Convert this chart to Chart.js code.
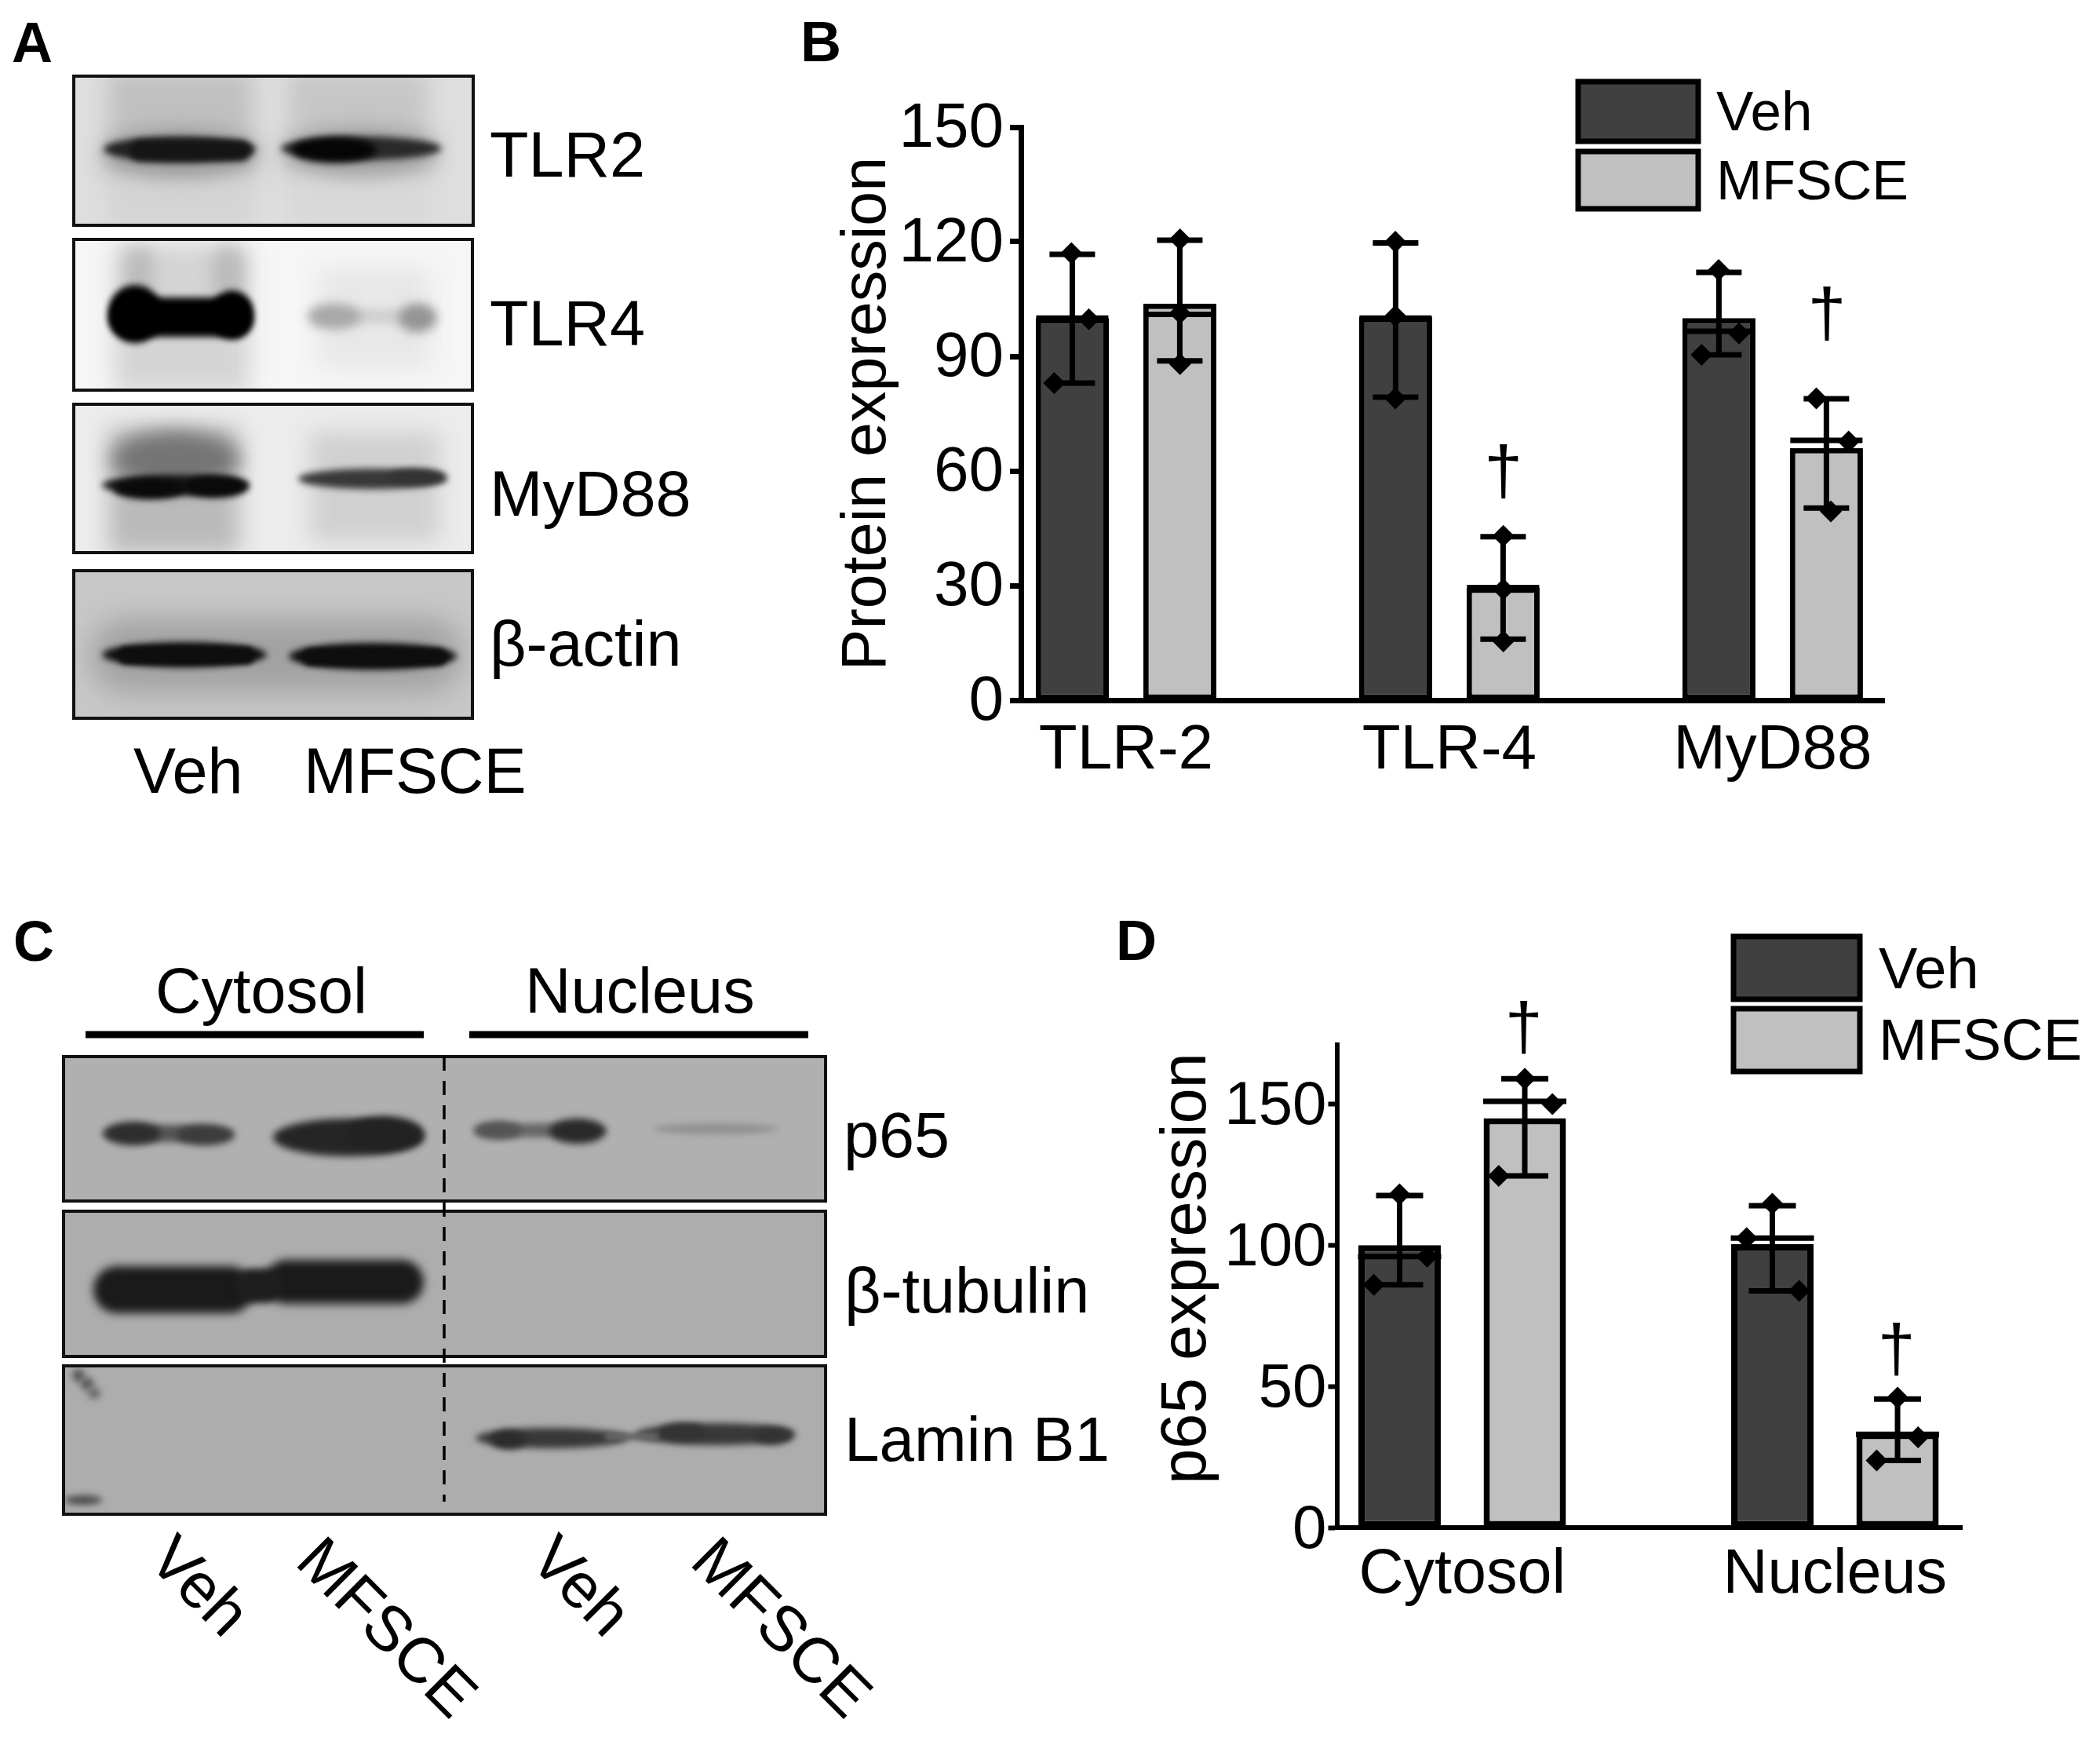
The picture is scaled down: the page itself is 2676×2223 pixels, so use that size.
<!DOCTYPE html>
<html><head><meta charset="utf-8">
<script src="https://cdn.jsdelivr.net/npm/chart.js@4/dist/chart.umd.js"></script>
<style>
html,body{margin:0;padding:0;background:#fff;width:2676px;height:2223px;overflow:hidden}
#stage{position:absolute;left:0;top:0;width:2676px;height:2223px;filter:blur(0.7px)}
#blots,#overlay{position:absolute;left:0;top:0}
.c{position:absolute}
text{font-family:"Liberation Sans",Arial,sans-serif;fill:#000}
</style></head><body>
<div id="stage">
<canvas id="blots" width="2676" height="2223"></canvas>
<svg id="overlay" width="2676" height="2223" xmlns="http://www.w3.org/2000/svg"></svg>
<div class="c" style="left:1050px;top:100px;width:1370px;height:920px"><canvas id="chartB" width="1370" height="920"></canvas></div>
<div class="c" style="left:1463px;top:1250px;width:1057px;height:810px"><canvas id="chartD" width="1057" height="810"></canvas></div>
</div>
<script>
// ---------- Panel B data ----------
const seriesNames = ['Veh', 'MFSCE'];
const catsB = ['TLR-2', 'TLR-4', 'MyD88'];
const vehB = [100, 100.3, 100];
const mfsceB = [103.8, 29.5, 66];
const vehHiB = [116.7, 119.7, 112];
const vehLoB = [83, 79.3, 90.4];
const vehMidB = [100, 100, 96.6];
const mfsceHiB = [120.4, 42.8, 78.9];
const mfsceLoB = [88.8, 16, 50.3];
const mfsceMidB = [101, 29.5, 68];
const pointsB = [
  [0.831,117],[0.885,99.7],[0.778,83],
  [1.167,120.6],[1.167,101.3],[1.167,88],
  [1.833,120],[1.833,100.6],[1.833,79],
  [2.167,43],[2.167,29],[2.167,15.4],
  [2.833,112.6],[2.896,96],[2.780,90.4],
  [3.135,79],[3.235,67.7],[3.180,49.4]
];
const daggersB = [[2.167,59],[3.168,100.3]];

// ---------- Panel D data ----------
const catsD = ['Cytosol', 'Nucleus'];
const vehD = [100, 100.4];
const mfsceD = [145, 33.5];
const vehHiD = [117.6, 114];
const vehLoD = [86, 83.8];
const vehMidD = [96, 102.5];
const mfsceHiD = [159, 45.5];
const mfsceLoD = [124.6, 23.8];
const mfsceMidD = [151, 33];
const pointsD = [
  [0.832,118],[0.906,96],[0.763,86],
  [1.168,159],[1.242,150],[1.098,124.6],
  [1.832,114.7],[1.763,102.5],[1.904,83.8],
  [2.168,46],[2.223,32],[2.112,23.8]
];
const daggersD = [[1.165,176],[2.165,62]];

const darkFill = '#404040', lightFill = '#c0c0c0', ink = '#000';
const fontFam = '"Liberation Sans", Arial, sans-serif';

// Error bars, mean lines and daggers, positioned through the chart's scales
const errorPlugin = {
  id: 'errorBars',
  beforeDraw(chart, _a, o) {
    // nudge the y tick labels down to sit as in the figure
    if (chart.$nudged) return;
    chart.$nudged = true;
    chart.scales.y.getLabelItems(chart.chartArea).forEach(it => { it.options.translation[1] += o.yLabelDy; });
  },
  afterDatasetsDraw(chart, _a, o) {
    const {ctx, scales:{x, y}} = chart;
    ctx.save();
    ctx.strokeStyle = ink; ctx.lineWidth = o.lw; ctx.lineCap = 'butt';
    chart.data.datasets.forEach((ds, di) => {
      if (!ds.errHi) return;
      chart.getDatasetMeta(di).data.forEach((bar, i) => {
        const px = bar.x, hi = y.getPixelForValue(ds.errHi[i]), lo = y.getPixelForValue(ds.errLo[i]), mid = y.getPixelForValue(ds.mid[i]);
        ctx.beginPath();
        ctx.moveTo(px, hi); ctx.lineTo(px, lo);
        ctx.moveTo(px - o.cap, hi); ctx.lineTo(px + o.cap, hi);
        ctx.moveTo(px - o.cap, lo); ctx.lineTo(px + o.cap, lo);
        ctx.moveTo(px - o.midHalf, mid); ctx.lineTo(px + o.midHalf, mid);
        ctx.stroke();
      });
    });
    ctx.fillStyle = ink; ctx.textAlign = 'center'; ctx.textBaseline = 'middle';
    ctx.font = o.daggerFont;
    o.daggers.forEach(d => ctx.fillText('\u2020', x.getPixelForValue(d[0]), y.getPixelForValue(d[1])));
    ctx.restore();
  }
};

function makeChart(id, cfg) {
  const xy = a => a.map(p => ({x:p[0], y:p[1]}));
  const groupX = cfg.cats.map((_, i) => i + 1);
  new Chart(document.getElementById(id), {
    type: 'bar',
    plugins: [errorPlugin],
    data: {
      datasets: [
        {label: seriesNames[0], order: 1, data: cfg.veh.map((v,i)=>({x:groupX[i],y:v})), backgroundColor: darkFill, borderColor: ink, borderWidth: cfg.bw, borderSkipped: false,
         errHi: cfg.vehHi, errLo: cfg.vehLo, mid: cfg.vehMid, categoryPercentage: cfg.catPct, barPercentage: cfg.barPct},
        {label: seriesNames[1], order: 1, data: cfg.mfsce.map((v,i)=>({x:groupX[i],y:v})), backgroundColor: lightFill, borderColor: ink, borderWidth: cfg.bw, borderSkipped: false,
         errHi: cfg.mfsceHi, errLo: cfg.mfsceLo, mid: cfg.mfsceMid, categoryPercentage: cfg.catPct, barPercentage: cfg.barPct},
        {type: 'scatter', label: 'Individual values', order: 0, data: xy(cfg.points), pointStyle: 'rectRot', pointRadius: cfg.r, backgroundColor: ink, borderColor: ink, borderWidth: 0}
      ]
    },
    options: {
      responsive: false, animation: false,
      layout: {padding: cfg.padding},
      plugins: {legend: {display: false}, tooltip: {enabled: false},
        errorBars: {lw: cfg.lw, cap: cfg.cap, midHalf: cfg.midHalf, daggers: cfg.daggers, daggerFont: cfg.daggerFont, yLabelDy: cfg.yLabelDy}},
      scales: {
        x: {type: 'linear', offset: false, min: cfg.xMin, max: cfg.xMax,
          grid: {display: false, drawTicks: false},
          border: {display: true, color: ink, width: cfg.axisW},
          afterFit: s => { s.height = cfg.xH; },
          ticks: {stepSize: 1, includeBounds: false, autoSkip: false, maxRotation: 0, minRotation: 0, color: ink, padding: cfg.xPad,
            font: {family: fontFam, size: cfg.xFs}, callback: v => cfg.cats[v - 1] || ''}},
        y: {min: 0, max: cfg.yMax,
          grid: {display: true, drawOnChartArea: false, drawTicks: true, tickColor: ink, tickWidth: cfg.axisW, tickLength: cfg.tickLen},
          border: {display: true, color: ink, width: cfg.axisW},
          afterFit: s => { s.width = cfg.yW; },
          title: {display: true, text: cfg.title, color: ink, font: {family: fontFam, size: cfg.titleFs}, padding: {top: cfg.titlePad, bottom: 0}},
          ticks: {stepSize: cfg.yStep, includeBounds: false, color: ink, padding: cfg.yPad, font: {family: fontFam, size: cfg.fs}}}
      }
    }
  });
}

makeChart('chartB', {
  cats: catsB, veh: vehB, mfsce: mfsceB, vehHi: vehHiB, vehLo: vehLoB, vehMid: vehMidB,
  mfsceHi: mfsceHiB, mfsceLo: mfsceLoB, mfsceMid: mfsceMidB, points: pointsB, daggers: daggersB,
  catPct: 0.665, barPct: 0.68, bw: 7, lw: 7, r: 14, cap: 29, midHalf: 46, axisW: 7, tickLen: 14,
  padding: {top: 62, right: 19, left: 0, bottom: 0}, xMin: 0.675, xMax: 3.345, xH: 128, yW: 251,
  yMax: 150, yStep: 30, fs: 80, xFs: 80, titleFs: 79, titlePad: 9, title: 'Protein expression', xPad: 17, yPad: 8, yLabelDy: 3, daggerFont: '88px ' + fontFam
});
makeChart('chartD', {
  cats: catsD, veh: vehD, mfsce: mfsceD, vehHi: vehHiD, vehLo: vehLoD, vehMid: vehMidD,
  mfsceHi: mfsceHiD, mfsceLo: mfsceLoD, mfsceMid: mfsceMidD, points: pointsD, daggers: daggersD,
  catPct: 0.6716, barPct: 0.658, bw: 8, lw: 7, r: 14, cap: 30, midHalf: 53, axisW: 6, tickLen: 11,
  padding: {top: 81, right: 20, left: 0, bottom: 0}, xMin: 0.6637, xMax: 2.3405, xH: 114, yW: 240.5,
  yMax: 171, yStep: 50, fs: 78, xFs: 79, titleFs: 81, titlePad: 2, title: '\u00A0\u00A0p65 expression', xPad: 14, yPad: 2, yLabelDy: 4, daggerFont: '86px ' + fontFam
});

// ---------- Text, legends ----------
const NS = 'http://www.w3.org/2000/svg';
const svg = document.getElementById('overlay');
function T(str, x, y, size, extra) {
  const t = document.createElementNS(NS, 'text');
  t.setAttribute('x', x); t.setAttribute('y', y); t.setAttribute('font-size', size);
  if (extra) for (const k in extra) t.setAttribute(k, extra[k]);
  t.textContent = str; svg.appendChild(t);
}
function R(x, y, w, h, fill, sw) {
  const r = document.createElementNS(NS, 'rect');
  r.setAttribute('x', x); r.setAttribute('y', y); r.setAttribute('width', w); r.setAttribute('height', h);
  r.setAttribute('fill', fill); r.setAttribute('stroke', '#000'); r.setAttribute('stroke-width', sw);
  svg.appendChild(r);
}
const panelLetters = [['A',15,79],['B',1020,78],['C',17,1224],['D',1422,1223]];
panelLetters.forEach(p => T(p[0], p[1], p[2], 72, {'font-weight':'bold'}));
const labelsA = [['TLR2',624,225],['TLR4',624,440],['MyD88',624,657],['\u03B2-actin',624,848],['Veh',170,1010],['MFSCE',387,1010]];
labelsA.forEach(p => T(p[0], p[1], p[2], 81));
const labelsC = [['Cytosol',198,1290],['Nucleus',669,1290],['p65',1075,1474],['\u03B2-tubulin',1076,1672]];
labelsC.forEach(p => T(p[0], p[1], p[2], 81));
T('Lamin B1',1076,1861,80);
const rotatedC = [['Veh',186,1990],['MFSCE',374,1992],['Veh',672,1990],['MFSCE',877,1992]];
rotatedC.forEach(p => T(p[0], p[1], p[2], 81, {transform:`rotate(45 ${p[1]} ${p[2]})`}));
// legends
R(2011,104,153,76,darkFill,7); R(2011,193,153,73,lightFill,7);
T(seriesNames[0],2187,166,71); T(seriesNames[1],2187,254,70);
R(2209,1193,161,80,darkFill,7); R(2209,1285,161,80,lightFill,7);
T(seriesNames[0],2394,1259,74); T(seriesNames[1],2394,1350,74);

// ---------- Western blot images (plain canvas, not data) ----------
const bc = document.getElementById('blots').getContext('2d');
function panel(x0, y0, x1, y1, bg, shapes, frame) {
  bc.save();
  bc.beginPath(); bc.rect(x0, y0, x1 - x0, y1 - y0); bc.clip();
  bc.fillStyle = bg; bc.fillRect(x0, y0, x1 - x0, y1 - y0);
  shapes.forEach(s => {
    bc.filter = `blur(${s[5]}px)`;
    bc.fillStyle = s[4];
    bc.beginPath();
    if (s[6] === 'r') bc.rect(s[0], s[2] - s[3] / 2, s[1] - s[0], s[3]);
    else if (s[6] === 'e') bc.ellipse((s[0] + s[1]) / 2, s[2], (s[1] - s[0]) / 2, s[3] / 2, 0, 0, 7);
    else bc.roundRect(s[0], s[2] - s[3] / 2, s[1] - s[0], s[3], s[3] / 2);
    bc.fill();
  });
  bc.restore();
  bc.filter = 'none';
  bc.strokeStyle = '#111'; bc.lineWidth = frame; bc.strokeRect(x0, y0, x1 - x0, y1 - y0);
}
// each shape: x0, x1, yCentre, height, colour, blur, kind
panel(94,97,603,287,'#dedede',[
  [138,322,160,140,'#c0c0c0',14,'r'],[368,545,160,140,'#c6c6c6',14,'r'],
  [138,322,255,70,'#d4d4d4',12,'r'],[368,545,255,70,'#d8d8d8',12,'r'],
  [130,330,195,62,'#9a9a9a',12,'e'],[360,560,193,62,'#a0a0a0',12,'e'],
  [132,326,190,32,'#222',4,'e'],[165,320,192,26,'#151515',4],
  [358,562,189,30,'#2a2a2a',4,'e'],[372,480,191,32,'#050505',5,'e']
],4);
panel(94,305,602,497,'#f6f6f6',[
  [145,318,405,190,'#d4d4d4',14,'r'],[405,550,405,130,'#e8e8e8',14,'r'],
  [160,195,350,70,'#bbb',10],[270,310,350,70,'#bbb',10],
  [138,206,400,74,'#000',4],[140,322,404,50,'#000',4],[270,322,401,62,'#000',4],
  [400,552,403,18,'#cfcfcf',6],[392,460,403,32,'#a8a8a8',7,'e'],[508,556,405,36,'#949494',7,'e']
],4);
panel(94,515,602,704,'#ececec',[
  [138,305,625,160,'#bababa',14,'r'],[395,560,620,140,'#d0d0d0',14,'r'],
  [142,305,585,72,'#747474',12,'e'],
  [130,318,618,26,'#151515',4,'e'],[145,235,623,26,'#0a0a0a',4,'e'],[235,316,620,28,'#0a0a0a',4,'e'],
  [380,570,610,26,'#383838',4,'e'],[495,568,607,20,'#333',4,'e']
],4);
panel(94,727,602,915,'#c8c8c8',[
  [115,590,835,95,'#a2a2a2',18],
  [130,340,834,32,'#0e0e0e',4,'e'],[368,582,836,34,'#0e0e0e',4,'e'],
  [150,325,835,22,'#0e0e0e',3],[385,570,837,22,'#0e0e0e',3]
],4);
panel(81,1346,1052,1530,'#b0b0b0',[
  [130,298,1444,22,'#555',4,'e'],[133,205,1444,30,'#2e2e2e',5,'e'],[225,298,1446,26,'#3c3c3c',5,'e'],
  [348,540,1449,48,'#252525',5,'e'],[440,540,1444,44,'#222',5,'e'],
  [604,772,1440,18,'#666',4,'e'],[700,772,1441,32,'#2a2a2a',5,'e'],[604,665,1440,24,'#555',4,'e'],
  [832,992,1438,13,'#8e8e8e',4,'e']
],4);
panel(81,1543,1052,1728,'#adadad',[
  [119,323,1643,60,'#1a1a1a',6],[337,540,1633,56,'#1a1a1a',6],[300,360,1638,44,'#1e1e1e',4]
],4);
panel(81,1740,1052,1929,'#adadad',[
  [606,800,1832,26,'#383838',4,'e'],[625,670,1834,24,'#2c2c2c',4,'e'],[810,1014,1827,28,'#383838',4,'e'],[840,900,1824,22,'#333',4,'e'],[960,1010,1829,22,'#333',4,'e'],[770,840,1830,10,'#666',3],
  [92,108,1752,16,'#555',4,'e'],[102,120,1763,16,'#5a5a5a',4,'e'],[112,128,1775,14,'#666',4,'e'],[82,130,1911,12,'#4a4a4a',4,'e']
],4);
// dashed separator and section bars
bc.strokeStyle = '#000'; bc.lineWidth = 3.5; bc.setLineDash([18,13]);
bc.beginPath(); bc.moveTo(566,1346); bc.lineTo(566,1913); bc.stroke(); bc.setLineDash([]);
bc.lineWidth = 9;
bc.beginPath(); bc.moveTo(109,1318); bc.lineTo(540,1318); bc.moveTo(598,1318); bc.lineTo(1030,1318); bc.stroke();
</script>
</body></html>
